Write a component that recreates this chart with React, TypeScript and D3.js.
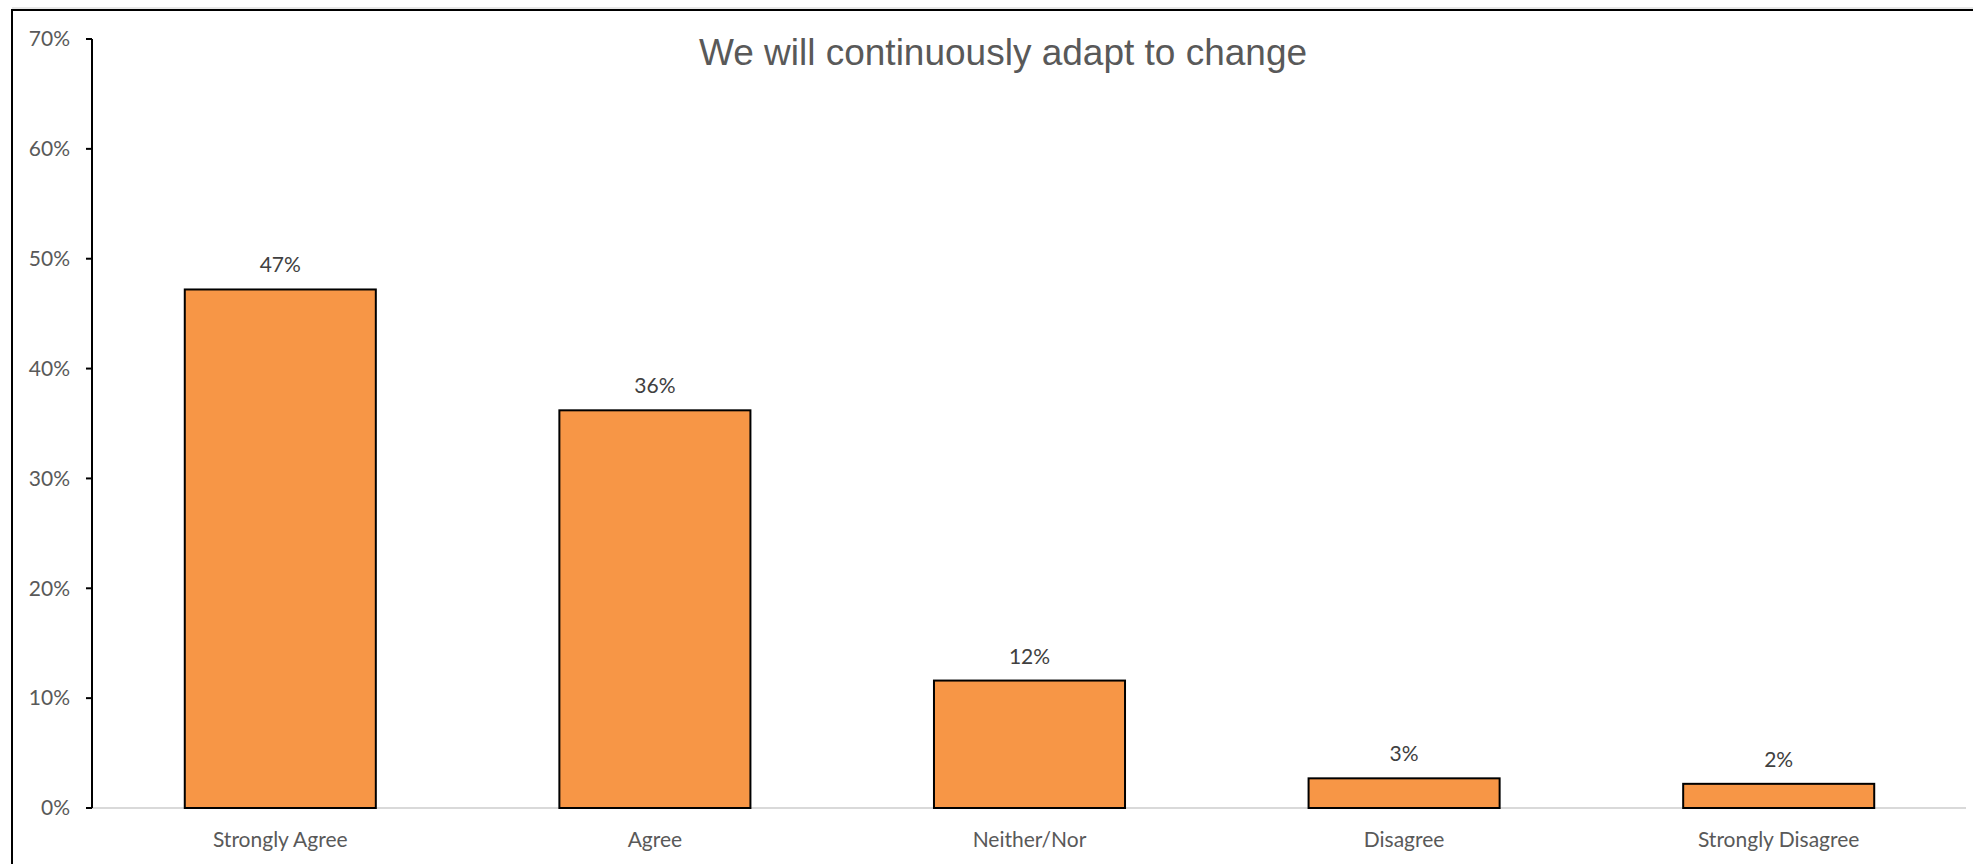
import React, { useEffect } from "react";
import * as d3 from "d3";

const categories = ["Strongly Agree", "Agree", "Neither/Nor", "Disagree", "Strongly Disagree"];
const values = [0.472, 0.362, 0.116, 0.027, 0.022];
const yTicks = [0, 0.1, 0.2, 0.3, 0.4, 0.5, 0.6, 0.7];
const title = "We will continuously adapt to change";

const W = 1973;
const H = 864;
const plotLeft = 93;
const plotRight = 1966;
const plotTop = 39;
const plotBottom = 808;
const labelFont = "Lato, 'Open Sans', sans-serif";

export default function App() {
  useEffect(() => {
    document.body.style.margin = "0";
    document.body.style.overflow = "hidden";
    document.documentElement.style.overflow = "hidden";
  }, []);

  const x = d3
    .scaleBand<string>()
    .domain(categories)
    .range([plotLeft, plotRight])
    .paddingInner(0.49)
    .paddingOuter(0.245);
  const y = d3.scaleLinear().domain([0, 0.7]).range([plotBottom, plotTop]);
  const pct = d3.format(".0%");

  return (
    <div style={{ position: "fixed", left: 0, top: 0, width: W, height: H, overflow: "hidden" }}>
      <svg width={W} height={H} style={{ display: "block", background: "#fff" }}>
        {/* frame */}
        <line x1={12} x2={W} y1={8} y2={8} stroke="#d0d0d0" strokeWidth={1} />
        <path d={`M12,${H} V10 H${W}`} fill="none" stroke="#000" strokeWidth={2} />

        {/* title */}
        <text
          x={1003}
          y={65}
          textAnchor="middle"
          fontFamily="'Liberation Sans', Arial, sans-serif"
          fontSize={37}
          fill="#595959"
        >
          {title}
        </text>

        {/* x axis line */}
        <line x1={92} x2={plotRight} y1={plotBottom} y2={plotBottom} stroke="#d9d9d9" strokeWidth={2} />

        {/* bars */}
        {categories.map((c, i) => (
          <g key={c}>
            <rect
              x={x(c)!}
              y={y(values[i])}
              width={x.bandwidth()}
              height={plotBottom - y(values[i])}
              fill="#F79646"
              stroke="#000"
              strokeWidth={2}
            />
            <text
              x={x(c)! + x.bandwidth() / 2}
              y={y(values[i]) - 17}
              textAnchor="middle"
              fontFamily={labelFont}
              fontSize={21}
              fill="#404040"
            >
              {pct(values[i])}
            </text>
            <text
              x={x(c)! + x.bandwidth() / 2}
              y={847}
              textAnchor="middle"
              fontFamily={labelFont}
              fontSize={21}
              fill="#595959"
            >
              {c}
            </text>
          </g>
        ))}

        {/* y axis */}
        <line x1={92} x2={92} y1={y(0.7)} y2={plotBottom} stroke="#000" strokeWidth={2} />
        {yTicks.map((t) => (
          <g key={t}>
            <line x1={86} x2={92} y1={y(t)} y2={y(t)} stroke="#000" strokeWidth={2} />
            <text
              x={70}
              y={y(t)}
              dy="0.35em"
              textAnchor="end"
              fontFamily={labelFont}
              fontSize={21}
              fill="#595959"
            >
              {pct(t)}
            </text>
          </g>
        ))}
      </svg>
    </div>
  );
}
